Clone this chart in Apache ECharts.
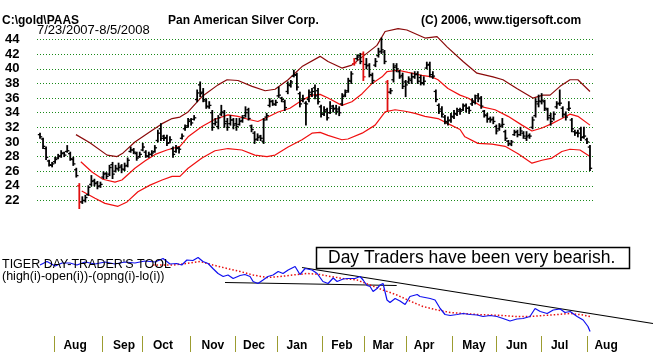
<!DOCTYPE html>
<html>
<head>
<meta charset="utf-8">
<script src="https://cdn.jsdelivr.net/npm/echarts@6/dist/echarts.min.js"></script>
</head>
<body style="margin:0;background:#fff">
<div id="container" style="width:659px;height:352px"></div>
<script>
// daily bars, PAAS 7/23/2007 - 8/5/2008 (one entry per plotted bar)
var hi = [31.2,30.5,29.3,27.5,27.2,27.9,28.3,28.8,28.6,29.5,
 28.6,27.9,26.4,24.3,22.5,22.7,24.0,25.4,24.9,24.6,
 24.5,25.9,25.8,26.8,27.2,26.8,27.1,26.9,27.1,27.8,
 29.3,29.1,28.6,28.6,29.8,28.8,28.6,28.8,29.5,31.6,
 32.5,30.9,30.9,30.7,29.3,29.5,29.3,31.1,32.3,33.2,
 33.2,33.6,37.1,38.2,37.3,35.9,35.5,34.3,33.2,33.6,
 35.0,34.3,33.2,33.6,33.2,33.2,33.2,33.6,34.8,34.6,
 32.3,31.4,31.1,30.9,33.2,33.9,35.9,35.7,35.7,37.5,
 36.1,35.7,38.2,38.4,39.8,39.4,36.8,36.4,35.5,37.1,
 37.3,37.8,37.3,35.0,34.8,34.6,35.5,35.0,35.0,34.8,
 36.6,37.1,38.7,39.6,41.4,41.9,42.1,42.3,41.4,40.7,
 39.4,41.4,42.8,44.2,42.5,38.4,37.3,40.7,40.7,39.8,
 39.4,38.4,38.9,39.4,39.6,39.6,39.1,38.9,40.9,40.9,
 39.6,37.1,35.2,34.8,33.6,33.4,33.9,34.3,34.6,34.6,
 35.2,35.2,34.8,35.9,36.4,36.6,36.2,34.3,33.9,33.4,
 33.4,32.3,32.5,33.2,31.6,30.2,30.2,31.6,31.6,32.0,
 31.4,31.4,31.1,33.4,35.9,36.4,36.6,35.7,34.6,33.9,
 34.1,35.5,37.1,34.8,34.1,35.5,33.2,31.6,31.6,32.0,
 32.0,30.5,29.5];
var lo = [30.5,29.1,27.6,26.7,26.6,27.1,27.7,27.9,28.0,28.6,
 27.5,26.8,25.2,20.9,21.6,21.8,22.7,24.0,24.0,23.6,
 23.8,25.0,25.0,25.4,25.0,25.9,26.1,25.8,26.1,26.6,
 28.6,28.4,27.5,27.9,28.8,27.9,27.9,28.1,28.6,30.0,
 30.2,30.2,29.5,29.9,27.9,28.6,28.5,30.4,31.6,32.0,
 32.3,33.0,35.5,36.2,35.5,34.6,34.6,31.6,32.3,31.8,
 33.6,32.0,31.6,32.3,31.8,31.6,32.3,32.7,33.4,33.0,
 31.4,29.8,30.2,30.2,29.8,33.0,34.8,35.0,35.0,36.1,
 35.5,34.3,36.6,37.5,38.9,37.1,34.8,35.5,32.3,35.5,
 36.2,35.9,35.2,33.4,33.6,33.0,33.9,34.1,33.8,33.6,
 35.0,36.2,36.8,38.0,40.5,41.2,40.7,38.4,40.0,38.9,
 38.0,40.3,41.6,42.1,40.7,34.3,36.6,38.2,39.6,38.7,
 37.3,36.2,38.0,38.0,38.7,38.0,37.8,37.8,40.0,38.9,
 38.7,35.5,33.9,33.4,32.5,32.3,32.7,33.2,33.6,33.8,
 34.3,34.1,33.9,35.0,35.2,35.5,34.6,33.4,32.7,32.7,
 32.5,31.1,31.6,32.0,30.2,29.5,29.5,30.9,30.7,30.9,
 30.5,30.2,30.5,31.8,33.4,34.8,35.2,34.3,33.0,32.3,
 33.0,34.6,35.0,33.4,33.0,34.3,31.4,30.9,30.7,30.2,
 30.5,29.8,26.1];
var op = [31.0,30.4,29.1,27.4,26.8,27.3,27.8,28.1,28.5,28.7,
 28.4,27.6,26.2,24.0,21.8,22.0,22.8,24.2,24.7,24.4,
 24.0,25.2,25.7,25.6,26.9,26.0,26.3,26.7,26.2,26.8,
 28.7,28.9,28.4,28.0,28.9,28.6,28.0,28.3,28.7,30.2,
 31.8,30.8,30.6,29.9,29.1,28.7,29.2,30.5,31.8,32.2,
 33.0,33.1,35.8,37.8,36.8,35.6,34.8,34.0,32.5,32.1,
 33.8,34.0,32.8,32.5,33.0,32.5,32.4,32.9,33.6,34.4,
 32.2,31.2,30.4,30.8,30.1,33.4,35.0,35.6,35.1,36.3,
 36.0,35.5,36.9,37.7,39.0,39.1,36.6,35.7,35.3,35.8,
 36.5,37.4,37.0,34.8,33.8,34.4,34.0,34.9,34.6,34.5,
 35.2,36.4,37.0,38.3,40.7,41.4,41.8,42.0,40.6,40.5,
 39.1,40.5,41.8,42.4,42.3,38.2,36.8,38.5,40.4,39.6,
 39.1,38.2,38.2,38.4,38.9,39.3,38.8,38.0,40.1,40.6,
 38.9,36.9,35.0,34.5,33.4,32.6,33.0,33.4,33.8,34.4,
 34.4,35.0,34.6,35.2,35.4,36.3,36.0,34.2,33.6,33.2,
 33.1,32.1,31.8,32.3,31.4,30.1,29.7,31.0,31.4,31.0,
 31.2,30.5,30.9,32.0,33.6,35.2,35.5,35.5,34.4,33.6,
 33.2,34.8,35.3,34.6,33.7,34.5,33.0,31.4,31.3,31.8,
 30.7,30.3,29.3];
var cl = [30.7,29.4,27.9,26.9,27.0,27.6,28.0,28.4,28.2,28.8,
 27.7,27.0,25.4,21.8,22.0,22.4,23.8,24.6,24.3,23.9,
 24.2,25.6,25.3,26.5,25.6,26.4,26.5,26.3,26.7,27.5,
 28.9,28.6,27.8,28.3,29.3,28.1,28.3,28.5,29.2,31.2,
 30.5,30.5,29.8,30.3,28.3,29.1,29.0,30.8,32.0,32.8,
 32.6,33.3,36.7,36.6,35.8,34.9,35.0,32.0,32.7,33.3,
 34.1,32.5,32.0,33.0,32.3,32.1,32.8,33.3,34.0,33.2,
 31.7,30.3,30.6,30.5,33.0,33.6,35.5,35.2,35.4,36.4,
 35.8,34.7,37.8,38.2,39.2,37.5,35.2,35.9,35.2,36.8,
 36.9,36.3,35.5,33.8,34.2,33.3,34.6,34.5,34.2,34.0,
 36.2,36.8,38.4,39.3,40.8,41.6,41.0,38.9,40.4,39.2,
 38.4,41.0,42.3,42.6,41.0,36.8,37.0,40.2,40.0,38.9,
 37.6,37.8,38.6,38.9,39.2,38.3,38.1,38.3,40.5,39.2,
 39.0,35.8,34.2,33.8,32.8,32.9,33.5,33.9,34.2,34.2,
 34.9,34.6,34.3,35.6,36.0,35.9,34.9,33.7,33.1,33.0,
 32.8,31.5,32.1,32.4,30.5,29.8,30.0,31.3,31.0,31.5,
 30.8,30.7,30.8,33.0,35.5,35.6,35.7,34.6,33.3,32.8,
 33.8,35.2,35.3,33.8,33.4,34.6,31.8,31.2,31.2,30.6,
 30.8,30.0,26.4];
var redBars = [13, 104, 107, 115];

// bands: [bar index, price]
var upperBand = [[11.9,31.0],[16.5,29.9],[22.2,28.2],[25.5,28.0],[27.5,28.5],[31.4,30.0],[36.4,31.4],
 [40.4,32.5],[43.7,33.2],[46.3,33.4],[49.0,34.1],[53.6,36.2],[58.9,37.8],[61.9,38.5],[65.5,38.4],
 [70.2,37.6],[74.5,37.0],[77.8,37.2],[82.1,38.5],[86.7,40.3],[92.7,41.7],[95.3,41.0],[99.9,40.1],
 [103.2,40.5],[107.5,41.9],[111.5,43.2],[114.2,45.1],[118.5,45.5],[121.4,45.3],[127.4,44.2],
 [131.4,44.4],[134.7,43.0],[140.0,41.0],[144.6,39.4],[149.9,38.9],[153.2,38.5],[157.8,37.3],
 [163.1,36.0],[166.4,36.4],[168.8,36.4],[172.1,37.6],[175.4,38.5],[178.0,38.5],[182.0,36.9]];
var midBand = [[13.5,27.3],[17.2,25.9],[20.8,24.9],[24.8,24.5],[27.1,24.8],[31.4,26.4],[34.7,27.4],
 [38.1,28.3],[42.0,28.9],[46.3,29.4],[49.0,30.7],[53.6,32.1],[57.9,33.1],[62.2,33.7],[65.5,33.5],
 [68.8,33.1],[72.1,32.8],[75.4,33.4],[78.8,34.1],[82.7,34.6],[86.7,35.7],[90.0,36.4],[92.7,36.5],
 [95.3,36.0],[99.9,35.0],[103.2,35.5],[106.6,36.6],[109.9,38.0],[113.2,38.9],[114.8,39.6],
 [118.5,39.8],[121.8,39.5],[126.4,39.1],[129.7,38.9],[131.7,38.5],[135.0,37.3],[139.0,36.4],
 [141.6,36.0],[146.3,34.8],[150.6,34.4],[154.9,33.5],[159.5,32.3],[162.8,31.5],[166.1,31.9],
 [169.4,32.5],[172.7,33.2],[175.4,33.8],[178.0,33.5],[182.0,32.3]];
var lowerBand = [[13.8,23.3],[18.2,22.3],[21.5,21.6],[25.8,21.2],[28.8,21.8],[32.4,23.2],[36.4,24.1],
 [40.4,24.8],[43.7,25.3],[46.3,25.3],[49.0,26.4],[53.6,27.8],[57.9,28.8],[62.2,29.1],[66.8,28.9],
 [71.1,28.2],[75.1,28.0],[77.8,28.2],[82.1,29.3],[86.7,30.3],[90.0,31.2],[92.7,31.3],[95.3,30.9],
 [99.9,30.3],[101.9,30.4],[106.6,31.2],[110.9,32.3],[114.2,34.1],[117.5,34.4],[120.8,34.2],
 [124.1,33.9],[127.4,33.5],[131.7,33.2],[135.0,32.5],[139.0,31.7],[140.6,30.7],[144.9,29.8],
 [149.6,29.7],[153.9,29.4],[158.2,28.4],[162.8,27.1],[166.1,27.5],[169.4,27.8],[172.7,28.7],
 [175.4,29.0],[178.7,28.9],[182.0,28.0]];

// day trader's tool indicator: [bar index, value]
var dayTool = [[0,14.2],[2.3,14.9],[5.0,14.0],[7.3,14.6],[9.9,14.6],[12.2,14.2],[14.9,14.8],[18.2,14.4],
 [21.5,14.8],[24.8,14.4],[28.1,14.8],[31.4,14.6],[34.7,15.0],[38.1,14.8],[40.7,15.5],[43.0,14.4],
 [45.2,14.5],[46.9,14.2],[48.6,15.2],[50.6,15.1],[52.3,15.7],[53.9,14.9],[55.6,14.5],[57.2,13.5],
 [58.9,12.5],[60.6,11.9],[62.2,12.2],[63.9,11.5],[66.2,12.1],[67.8,12.3],[69.5,11.9],[70.5,10.9],
 [72.1,10.5],[73.8,11.2],[75.4,11.9],[77.1,12.2],[78.8,12.9],[80.4,12.5],[82.1,13.2],[84.4,13.9],
 [86.0,12.3],[87.7,13.5],[90.0,13.2],[91.7,12.5],[93.6,10.9],[95.3,10.5],[97.0,11.6],[98.3,10.9],
 [100.3,11.4],[101.9,11.5],[104.2,11.5],[105.9,11.9],[106.9,11.2],[108.2,10.1],[109.2,9.9],
 [110.2,8.9],[111.5,9.5],[112.5,10.2],[113.5,10.5],[114.8,7.2],[115.8,6.7],[117.5,7.5],[119.1,7.0],
 [120.8,6.3],[122.4,7.9],[124.8,8.3],[125.7,7.9],[127.4,7.7],[129.1,7.5],[130.7,7.2],[132.4,5.5],
 [134.0,4.3],[135.7,4.1],[138.0,4.3],[140.0,4.5],[142.3,4.3],[144.6,4.2],[146.6,3.9],[148.9,4.1],
 [151.2,3.9],[153.2,3.5],[155.5,3.0],[157.8,3.4],[159.8,3.5],[162.1,3.9],[163.8,5.5],[165.5,4.9],
 [167.8,4.5],[169.8,5.2],[172.1,5.4],[173.7,4.7],[175.4,4.9],[177.7,3.9],[179.7,3.2],[181.3,1.9],
 [182.0,0.9]];
var dayToolMa = [[37.4,14.2],[44.0,14.2],[48.6,14.5],[52.9,14.9],[57.2,14.2],[61.9,13.5],[66.2,12.9],
 [70.5,12.2],[75.1,11.7],[79.4,11.9],[83.7,12.2],[88.4,12.5],[92.7,12.3],[96.0,11.9],[100.3,11.5],
 [104.9,11.2],[109.2,10.2],[113.5,9.2],[118.1,8.2],[122.4,7.0],[126.7,5.9],[131.4,5.2],[135.7,4.7],
 [140.0,4.5],[144.6,4.3],[148.9,4.2],[153.2,4.1],[157.8,3.9],[162.1,3.9],[166.4,4.1],[171.1,4.3],
 [175.4,4.5],[179.7,4.2],[182.0,3.9]];
var downTrend = [[86.7,13.7],[202.8,2.5]];
var supportLine = [[61.2,10.7],[118.0,10.1]];

var monthNames = ['Aug','Sep','Oct','Nov','Dec','Jan','Feb','Mar','Apr','May','Jun','Jul','Aug'];
var monthStarts = [4.6,20.5,33.8,49.6,64.5,78.4,93.3,107.2,121.1,136.3,150.9,165.8,181.0];
var monthLabelAt = [11.6,27.8,40.7,57.2,70.8,85.0,99.9,113.5,127.1,143.6,157.7,171.9,187.3];

var FONT = "'Liberation Sans', Arial, sans-serif";
var dom = document.getElementById('container');
var myChart = echarts.init(dom, null, {renderer: 'canvas'});

var bars = hi.map(function (h, i) {
    return [i, op[i], h, lo[i], cl[i]];
});

function renderBar(params, api) {
    var i = api.value(0);
    var pO = api.coord([i, api.value(1)]);
    var pH = api.coord([i, api.value(2)]);
    var pL = api.coord([i, api.value(3)]);
    var pC = api.coord([i, api.value(4)]);
    var col = redBars.indexOf(i) >= 0 ? '#e01010' : '#000';
    var x = pH[0];
    return {
        type: 'group',
        children: [
            {type: 'line', shape: {x1: x, y1: pH[1] - 0.5, x2: x, y2: pL[1] + 0.5}, style: {stroke: col, lineWidth: 1.8}},
            {type: 'line', shape: {x1: x - 2.2, y1: pO[1], x2: x, y2: pO[1]}, style: {stroke: col, lineWidth: 1.3}},
            {type: 'line', shape: {x1: x, y1: pC[1], x2: x + 2.2, y2: pC[1]}, style: {stroke: col, lineWidth: 1.3}}
        ]
    };
}

function txt(s, x, y, size, weight) {
    return {
        type: 'text', z: 100,
        style: {text: s, x: x, y: y, fill: '#000', textVerticalAlign: 'middle',
            font: (weight || 'normal') + ' ' + size + 'px ' + FONT}
    };
}

option = {
    animation: false,
    backgroundColor: '#fff',
    grid: [
        {left: 37, right: 66, top: 24.9, bottom: 136.9},
        {left: 37, right: 0, top: 226, bottom: 16}
    ],
    xAxis: [
        {type: 'value', gridIndex: 0, min: -1, max: 183, show: false},
        {
            type: 'value', gridIndex: 1, min: -1, max: 204.8,
            axisLine: {show: false},
            splitLine: {show: false},
            axisTick: {show: true, customValues: monthStarts, length: 16, inside: false,
                lineStyle: {color: '#9c9c30', width: 1}},
            axisLabel: {
                customValues: monthLabelAt, margin: 4,
                color: '#000', fontWeight: 'bold', fontSize: 12, fontFamily: FONT,
                formatter: function (v) {
                    var k = 0, best = 1e9;
                    for (var j = 0; j < monthLabelAt.length; j++) {
                        var d = Math.abs(monthLabelAt[j] - v);
                        if (d < best) { best = d; k = j; }
                    }
                    return monthNames[k];
                }
            }
        }
    ],
    yAxis: [
        {
            type: 'value', gridIndex: 0, min: 20, max: 46, interval: 2,
            axisLine: {show: false}, axisTick: {show: false},
            axisLabel: {show: true, align: 'left', margin: 32, color: '#000',
                fontWeight: 'bold', fontSize: 13, fontFamily: FONT,
                showMinLabel: false, showMaxLabel: false},
            splitLine: {show: true, showMinLine: false, showMaxLine: false,
                lineStyle: {color: '#1a8a1a', type: [1, 2], width: 1}}
        },
        {type: 'value', gridIndex: 1, min: 0, max: 22, show: false}
    ],
    series: [
        {
            type: 'custom', name: 'PAAS', xAxisIndex: 0, yAxisIndex: 0,
            renderItem: renderBar, encode: {x: 0, y: [1, 2, 3, 4]}, data: bars, z: 3
        },
        {type: 'line', xAxisIndex: 0, yAxisIndex: 0, data: upperBand, symbol: 'none', z: 2,
            lineStyle: {color: '#8b0a0a', width: 1.2}},
        {type: 'line', xAxisIndex: 0, yAxisIndex: 0, data: midBand, symbol: 'none', z: 2,
            lineStyle: {color: '#f01010', width: 1.2}},
        {type: 'line', xAxisIndex: 0, yAxisIndex: 0, data: lowerBand, symbol: 'none', z: 2,
            lineStyle: {color: '#f01010', width: 1.2}},
        {type: 'line', xAxisIndex: 1, yAxisIndex: 1, data: supportLine, symbol: 'none', z: 2,
            lineStyle: {color: '#000', width: 1.2}},
        {type: 'line', xAxisIndex: 1, yAxisIndex: 1, data: downTrend, symbol: 'none', z: 2,
            lineStyle: {color: '#000', width: 1.2}},
        {type: 'line', xAxisIndex: 1, yAxisIndex: 1, data: dayToolMa, symbol: 'none', z: 3,
            lineStyle: {color: '#e81010', width: 1.5, type: [1.5, 2]}},
        {type: 'line', xAxisIndex: 1, yAxisIndex: 1, data: dayTool, symbol: 'none', z: 4,
            lineStyle: {color: '#1010f0', width: 1.2}}
    ],
    graphic: [
        txt('C:\\gold\\PAAS', 2, 21, 12, 'bold'),
        txt('7/23/2007-8/5/2008', 37, 30, 13),
        txt('Pan American Silver Corp.', 168, 21, 12, 'bold'),
        txt('(C) 2006, www.tigersoft.com', 421, 21, 12, 'bold'),
        txt("TIGER DAY-TRADER'S TOOL", 2, 265, 12.5),
        txt('(high(i)-open(i))-(opng(i)-lo(i))', 2, 277, 12.5),
        {
            type: 'rect', z: 99,
            shape: {x: 316.5, y: 247.5, width: 313, height: 21},
            style: {fill: '#fff', stroke: '#000', lineWidth: 1.5}
        },
        txt('Day Traders have been very bearish.', 328, 258, 17.5)
    ]
};
if (option && typeof option === 'object') {
    myChart.setOption(option, true);
}
</script>
</body>
</html>
